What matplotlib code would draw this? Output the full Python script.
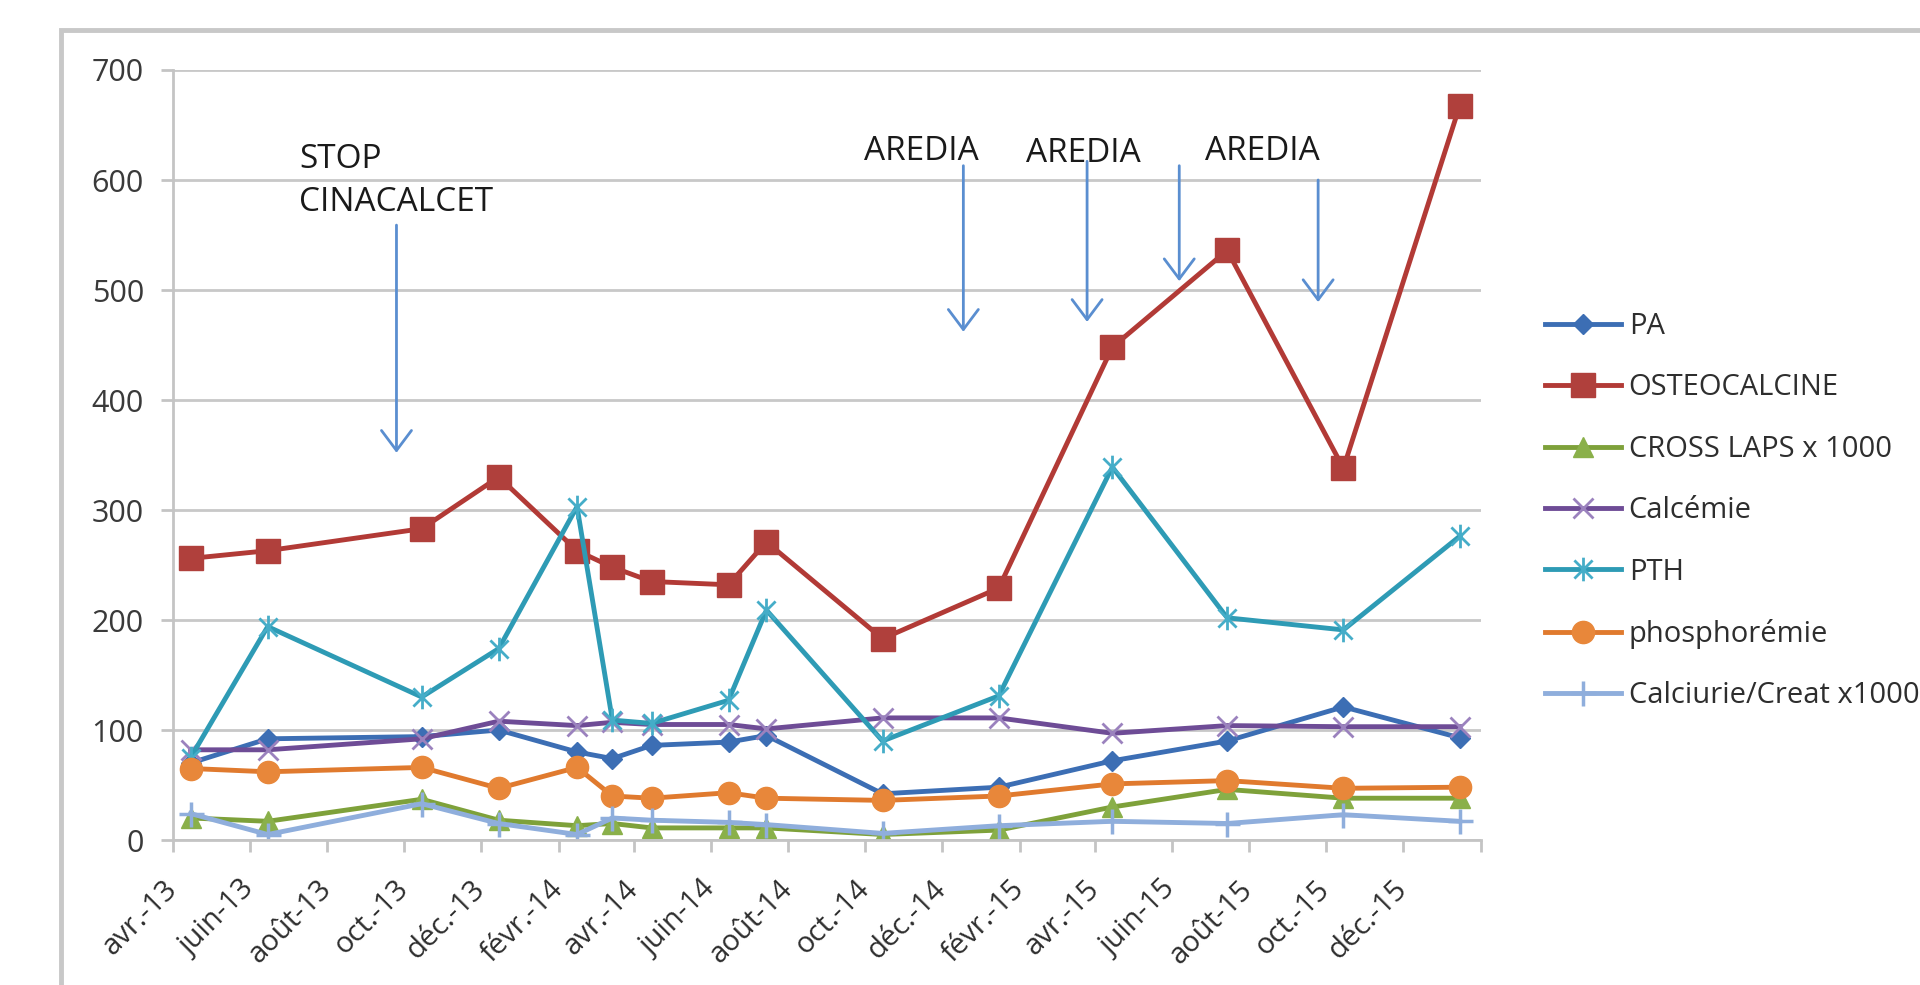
#set up modules
import pandas as pd
import matplotlib
matplotlib.use('Agg')
import matplotlib.pyplot as plt
from matplotlib.path import Path
from matplotlib.patches import Rectangle
from matplotlib.transforms import ScaledTranslation

plt.rcParams['font.family'] = ['Open Sans', 'DejaVu Sans']

#sampling dates (mid-month)
dates = pd.to_datetime(['2013-04-15', '2013-06-15', '2013-10-15', '2013-12-15', '2014-02-15',
                        '2014-03-15', '2014-04-15', '2014-06-15', '2014-07-15', '2014-10-15',
                        '2015-01-15', '2015-04-15', '2015-07-15', '2015-10-15', '2016-01-15'])

pa = [70, 92, 94, 100, 80, 74, 86, 89, 95, 42, 48, 72, 90, 121, 93]
osteocalcine = [256, 263, 283, 330, 263, 248, 235, 232, 271, 183, 229, 448, 536, 338, 667]
cross_laps = [20, 17, 37, 18, 13, 15, 11, 11, 11, 5, 9, 30, 46, 38, 38]
calcemie = [82, 82, 92, 108, 104, 107, 105, 105, 101, 111, 111, 97, 104, 103, 103]
pth = [75, 194, 130, 174, 303, 109, 106, 127, 209, 90, 131, 339, 202, 191, 276]
phosphoremie = [65, 62, 66, 47, 66, 40, 38, 43, 38, 36, 40, 51, 54, 47, 48]
calciurie = [24, 5, 33, 15, 5, 20, 18, 16, 14, 6, 13, 17, 15, 23, 17]

labels = ['PA', 'OSTEOCALCINE', 'CROSS LAPS x 1000', 'Calcémie', 'PTH', 'phosphorémie',
          'Calciurie/Creat x1000']

#x axis ticks every 2 months
tick_dates = pd.date_range('2013-04-01', '2016-02-01', freq='2MS')
tick_labels = ['avr.-13', 'juin-13', 'août-13', 'oct.-13', 'déc.-13', 'févr.-14', 'avr.-14',
               'juin-14', 'août-14', 'oct.-14', 'déc.-14', 'févr.-15', 'avr.-15', 'juin-15',
               'août-15', 'oct.-15', 'déc.-15', '']

#annotations
stop_text = 'STOP\nCINACALCET'
stop_date, stop_y = pd.Timestamp('2013-07-10'), 634
stop_arrow_date, stop_arrow_top, stop_arrow_bottom = pd.Timestamp('2013-09-25'), 559, 352
aredia_dates = pd.to_datetime(['2014-11-15', '2015-03-23', '2015-08-12'])
aredia_y = [626, 624, 626]
arrow_dates = pd.to_datetime(['2014-12-18', '2015-03-26', '2015-06-07', '2015-09-25'])
arrow_top = [613, 617, 613, 600]
arrow_bottom = [462, 471, 508, 489]

#asterisk marker like excel (x + vertical bar)
star = Path([(-1, -1), (1, 1), (-1, 1), (1, -1), (0, -1.3), (0, 1.3)],
            [Path.MOVETO, Path.LINETO, Path.MOVETO, Path.LINETO, Path.MOVETO, Path.LINETO])

styles = [
    dict(color='#3C6EB4', marker='D', ms=10),
    dict(color='#B23A36', marker='s', ms=17, mfc='#B0403C', mec='#B0403C'),
    dict(color='#7EA13A', marker='^', ms=15, mfc='#8AB04A', mec='#8AB04A'),
    dict(color='#6E4C96', marker='x', ms=14, mew=2, mec='#9B82BE'),
    dict(color='#2E9BB5', marker=star, ms=17, mew=2, mec='#45ADC8'),
    dict(color='#E07A2E', marker='o', ms=16, mfc='#E8873A', mec='#E8873A'),
    dict(color='#8FAEDC', marker='+', ms=18, mew=2.5),
]
values = [pa, osteocalcine, cross_laps, calcemie, pth, phosphoremie, calciurie]

fig = plt.figure(figsize=(19.2, 9.85), dpi=100)
ax = fig.add_axes([173/1920, 145/985, 1308/1920, 770/985])

for lab, vals, st in zip(labels, values, styles):
    ax.plot(dates, vals, label=lab, lw=3.5, **st)

ax.set_xlim(pd.Timestamp('2013-04-01'), pd.Timestamp('2016-02-01'))
ax.set_ylim(0, 700)
ax.set_yticks(range(0, 701, 100))
ax.set_xticks(tick_dates)
ax.set_xticklabels(tick_labels, rotation=45, ha='right', va='center', rotation_mode='anchor')
for lab in ax.get_xticklabels():
    lab.set_transform(lab.get_transform() + ScaledTranslation(0.27, 0, fig.dpi_scale_trans))

ax.grid(axis='y', color='#C8C8C8', lw=2)
ax.set_axisbelow(True)
for s in ['top', 'right']:
    ax.spines[s].set_visible(False)
for s in ['left', 'bottom']:
    ax.spines[s].set_color('#C4C4C4')
    ax.spines[s].set_linewidth(2)
ax.tick_params(axis='y', length=9, width=2, color='#C4C4C4', pad=12, labelsize=22, labelcolor='#3a3a3a')
ax.tick_params(axis='x', length=8.5, width=2, color='#C4C4C4', pad=24, labelsize=21, labelcolor='#2e2e2e')

#annotations
ax.text(stop_date, stop_y, stop_text, fontsize=24, va='top', ha='left', color='#1a1a1a', linespacing=1.4)
ax.annotate('', xy=(stop_arrow_date, stop_arrow_bottom), xytext=(stop_arrow_date, stop_arrow_top),
            arrowprops=dict(arrowstyle='->,head_length=0.6,head_width=0.45', color='#5A8ED0', lw=2,
                            mutation_scale=24, shrinkA=0, shrinkB=0))
for d, y in zip(aredia_dates, aredia_y):
    ax.text(d, y, 'AREDIA', fontsize=24, ha='center', va='center', color='#1a1a1a')
for d, t, b in zip(arrow_dates, arrow_top, arrow_bottom):
    ax.annotate('', xy=(d, b), xytext=(d, t),
                arrowprops=dict(arrowstyle='->,head_length=0.6,head_width=0.45', color='#5A8ED0', lw=2,
                                mutation_scale=24, shrinkA=0, shrinkB=0))

ax.legend(loc='upper left', bbox_to_anchor=(1545/1920, 1 - 312/985), bbox_transform=fig.transFigure,
          frameon=False, fontsize=21, numpoints=1, handlelength=2.62, handletextpad=0.25,
          labelspacing=1.11, borderpad=0, borderaxespad=0, labelcolor='#2e2e2e')

#chart area border
fig.add_artist(Rectangle((61/1920, -0.1), 2, 1.1 - 30/985, transform=fig.transFigure,
                         fill=False, ec='#C8C8C8', lw=3.5))

plt.savefig('out.png', dpi=100)
